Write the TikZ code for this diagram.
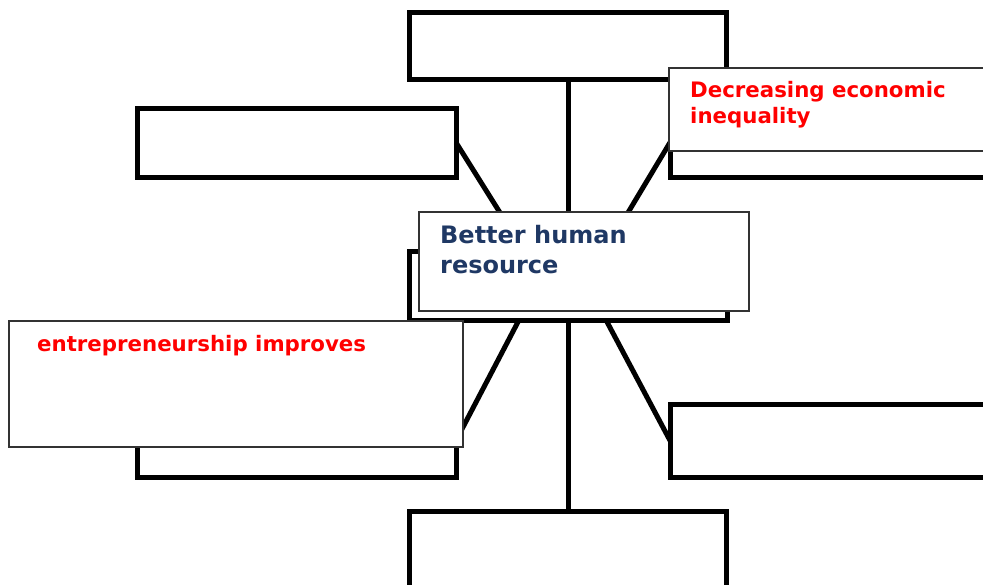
\documentclass[tikz,border=0pt]{standalone}
\usepackage{fontspec}
\setmainfont{DejaVu Sans}
\usetikzlibrary{calc}
\definecolor{navyblue}{RGB}{31,56,100}
\definecolor{pptred}{RGB}{255,0,0}
\begin{document}
\begin{tikzpicture}[x=1pt,y=-1pt,
  frame/.style={draw=black, line width=5pt, rectangle, inner sep=0pt, outer sep=0pt},
  spoke/.style={draw=black, line width=5pt},
  textframe/.style={draw=black!80, line width=1.2pt, fill=white, rectangle, inner sep=0pt, outer sep=0pt, anchor=north west},
  navytxt/.style={anchor=base west, align=left, inner sep=0pt, text=navyblue, font=\bfseries\fontsize{24}{30}\selectfont},
  redtxt/.style={anchor=base west, align=left, inner sep=0pt, text=pptred, font=\bfseries\fontsize{21.3}{26.5}\selectfont}]
\useasboundingbox (0,0) rectangle (983,584);
\clip (0,0) rectangle (983,584);
% thick frames
\node[frame, minimum width=317pt, minimum height=67pt] (top) at (568,45.5) {};
\node[frame, minimum width=319pt, minimum height=69pt] (ul) at (296.5,142.5) {};
\node[frame, minimum width=319pt, minimum height=69pt] (ur) at (829.5,142.5) {};
\node[frame, minimum width=318pt, minimum height=69pt] (hub) at (568,285.5) {};
\node[frame, minimum width=319pt, minimum height=73pt] (ll) at (296.5,440.5) {};
\node[frame, minimum width=319pt, minimum height=73pt] (lr) at (829.5,440.5) {};
\node[frame, minimum width=317pt, minimum height=79pt] (bot) at (568,550.5) {};
% spokes
\draw[spoke] (top.south) -- (hub.north);
\draw[spoke] (hub.south) -- (bot.north);
\draw[spoke] (ul.east) -- ($(hub.north)+(-44,0)$);
\draw[spoke] (ur.west) -- ($(hub.north)+(37,0)$);
\draw[spoke] ($(hub.south)+(-49,0)$) -- (ll.east);
\draw[spoke] ($(hub.south)+(38,0)$) -- (lr.west);
% text boxes
\node[textframe, minimum width=330pt, minimum height=99pt] (hubtext) at (419,212) {};
\node[navytxt] (hublabel) at ($(hubtext.north west)+(21,61)$) {Better human\\resource};
\node[textframe, minimum width=330pt, minimum height=83pt] (ineqtext) at (669,68) {};
\node[redtxt] (ineqlabel) at ($(ineqtext.north west)+(21,55.5)$) {Decreasing economic\\inequality};
\node[textframe, minimum width=454pt, minimum height=126pt] (entretext) at (9,321) {};
\node[redtxt] (entrelabel) at ($(entretext.north west)+(28,30)$) {entrepreneurship improves};
\end{tikzpicture}
\end{document}
